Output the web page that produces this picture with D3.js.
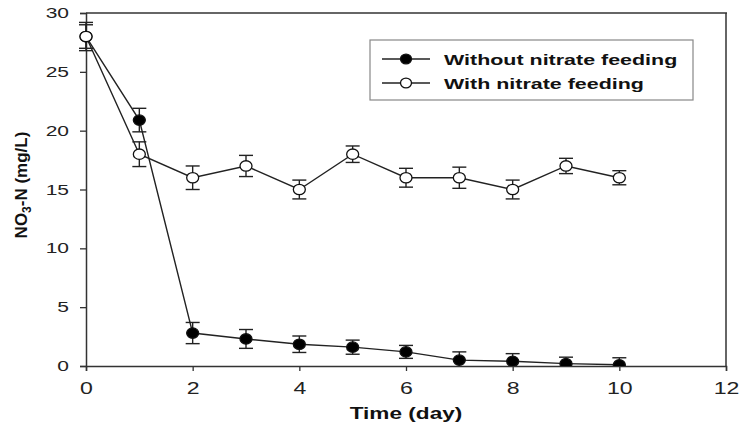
<!DOCTYPE html>
<html><head><meta charset="utf-8">
<script src="https://cdn.jsdelivr.net/npm/d3@7"></script>
<style>
body{margin:0;background:#fff;}
svg{display:block;font-family:"Liberation Sans",Arial,Helvetica,sans-serif;}
</style></head>
<body>
<svg id="chart" width="743" height="426"></svg>
<script>
const days = [0,1,2,3,4,5,6,7,8,9,10];
const withoutValues = [28, 20.9, 2.8, 2.3, 1.85, 1.6, 1.2, 0.5, 0.4, 0.2, 0.1];
const withoutErrors = [1.0, 1.0, 0.9, 0.8, 0.7, 0.6, 0.55, 0.7, 0.65, 0.55, 0.6];
const withValues = [28, 18, 16, 17, 15, 18, 16, 16, 15, 17, 16];
const withErrors = [1.2, 1.05, 1.0, 0.9, 0.8, 0.7, 0.8, 0.9, 0.8, 0.65, 0.6];
const xTicks = [0,2,4,6,8,10,12];
const yTicks = [0,5,10,15,20,25,30];
const seriesNames = ["Without nitrate feeding","With nitrate feeding"];

const svg = d3.select("#chart");
const L=86, R=726, T=13, B=366;
const x = d3.scaleLinear().domain([0,12]).range([L,R]);
const y = d3.scaleLinear().domain([0,30]).range([B,T]);
const SX = 1.4;
const ink = "#111", axisCol = "#333";

// frame top & right
svg.append("line").attr("x1",L).attr("x2",R+1).attr("y1",T).attr("y2",T).attr("stroke",axisCol).attr("stroke-width",1.5);
svg.append("line").attr("x1",R).attr("x2",R).attr("y1",T).attr("y2",B).attr("stroke",axisCol).attr("stroke-width",1.5);

// axes
const gx = svg.append("g").attr("transform",`translate(0,${B})`)
  .call(d3.axisBottom(x).tickValues(xTicks).tickFormat(d3.format("d")).tickSize(5).tickPadding(11));
const gy = svg.append("g").attr("transform",`translate(${L},0)`)
  .call(d3.axisLeft(y).tickValues(yTicks).tickFormat(d3.format("d")).tickSize(6).tickPadding(11));
[gx,gy].forEach(g=>{
  g.select(".domain").attr("stroke",axisCol).attr("stroke-width",1.5);
  g.selectAll(".tick line").attr("stroke",axisCol).attr("stroke-width",1.3);
  g.selectAll("text").attr("font-family","'Liberation Sans',Arial,sans-serif").attr("fill","#222");
});
gx.selectAll("text").attr("font-size",16.5).attr("transform",`scale(${SX},1)`);
gy.selectAll("text").attr("font-size",14.5).attr("x",-17/1.45).attr("transform",`scale(1.45,1)`);

// clip
svg.append("clipPath").attr("id","clip").append("rect").attr("x",L-10).attr("y",T-10).attr("width",R-L+20).attr("height",B-T+10);
const plot = svg.append("g").attr("clip-path","url(#clip)");

const series = [
  {vals: withoutValues, errs: withoutErrors, fill:"#000"},
  {vals: withValues, errs: withErrors, fill:"#fff"}
];
const line = d3.line().x((d,i)=>x(days[i])).y(d=>y(d));
series.forEach(s=>{
  plot.append("path").datum(s.vals).attr("d",line).attr("fill","none").attr("stroke","#222").attr("stroke-width",1.4);
});
series.forEach(s=>{
  const g = plot.append("g").attr("stroke","#222").attr("stroke-width",1.4);
  s.vals.forEach((v,i)=>{
    const cx=x(days[i]), hi=y(v+s.errs[i]), lo=y(v-s.errs[i]);
    g.append("line").attr("x1",cx).attr("x2",cx).attr("y1",hi).attr("y2",lo);
    g.append("line").attr("x1",cx-7).attr("x2",cx+7).attr("y1",hi).attr("y2",hi);
    g.append("line").attr("x1",cx-7).attr("x2",cx+7).attr("y1",lo).attr("y2",lo);
  });
});
series.forEach(s=>{
  plot.append("g").selectAll("ellipse").data(s.vals).join("ellipse")
    .attr("cx",(d,i)=>x(days[i])).attr("cy",d=>y(d)).attr("rx",6).attr("ry",5.2)
    .attr("fill",s.fill).attr("stroke","#111").attr("stroke-width",1.3);
});

// legend
const lg = svg.append("g");
lg.append("rect").attr("x",370).attr("y",40).attr("width",323).attr("height",60)
  .attr("fill","#fff").attr("stroke","#888").attr("stroke-width",1.2);
const legendFills = ["#000","#fff"];
seriesNames.forEach((name,i)=>{
  const yy = 59 + i*24;
  lg.append("line").attr("x1",382).attr("x2",430).attr("y1",yy).attr("y2",yy).attr("stroke","#222").attr("stroke-width",1.4);
  lg.append("ellipse").attr("cx",406).attr("cy",yy).attr("rx",5.5).attr("ry",4.8).attr("fill",legendFills[i]).attr("stroke","#111").attr("stroke-width",1.3);
  lg.append("text").attr("transform",`translate(444,${yy+5.5}) scale(1.43,1)`)
    .attr("font-size",15).attr("font-weight","bold").attr("fill",ink).text(name);
});

// axis titles
svg.append("text").attr("transform","translate(406,419) scale(1.33,1)").attr("text-anchor","middle")
  .attr("font-size",17).attr("font-weight","bold").attr("fill",ink).text("Time (day)");
const yl = svg.append("text").attr("transform","translate(27,185) rotate(-90)").attr("text-anchor","middle")
  .attr("font-size",17).attr("font-weight","bold").attr("fill",ink);
yl.append("tspan").text("NO");
yl.append("tspan").attr("font-size",12).attr("dy",4).text("3");
yl.append("tspan").attr("dy",-4).text("-N (mg/L)");
</script>
</body></html>
